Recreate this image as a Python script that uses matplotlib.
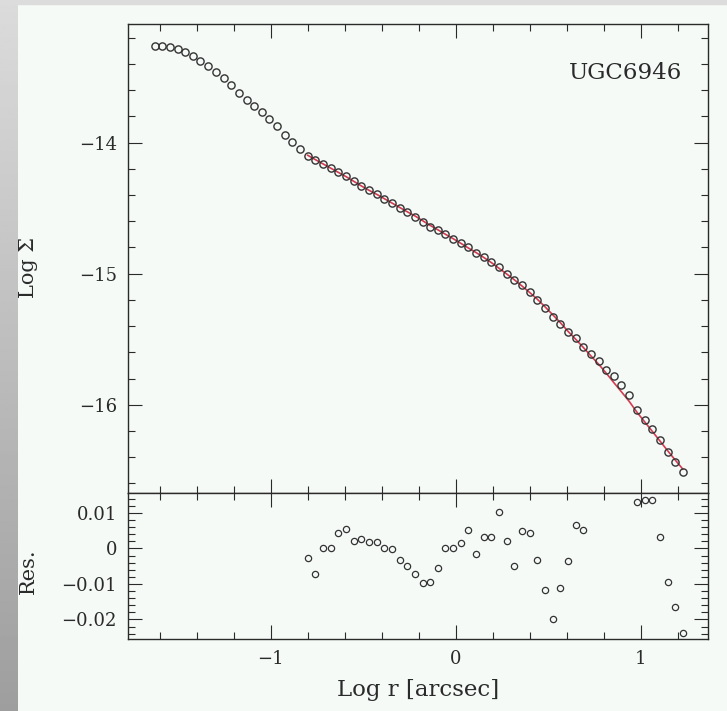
import matplotlib
matplotlib.use("Agg")
import matplotlib.pyplot as plt
import numpy as np
from matplotlib.ticker import MultipleLocator, FuncFormatter
from matplotlib.patches import Rectangle

# surface brightness profile of UGC6946
log_r = [-1.629, -1.588, -1.546, -1.505, -1.463, -1.422, -1.381, -1.339, -1.298, -1.256,
         -1.215, -1.174, -1.132, -1.091, -1.049, -1.008, -0.967, -0.925, -0.884, -0.842,
         -0.801, -0.760, -0.718, -0.677, -0.635, -0.594, -0.553, -0.511, -0.470, -0.428,
         -0.387, -0.346, -0.304, -0.263, -0.221, -0.180, -0.139, -0.097, -0.056, -0.014,
         0.027, 0.068, 0.110, 0.151, 0.193, 0.234, 0.275, 0.317, 0.358, 0.400,
         0.441, 0.482, 0.524, 0.565, 0.607, 0.648, 0.689, 0.731, 0.772, 0.814,
         0.855, 0.896, 0.938, 0.979, 1.021, 1.062, 1.103, 1.145, 1.186, 1.228]

log_sigma = [-13.259, -13.262, -13.267, -13.285, -13.310, -13.341, -13.376, -13.417, -13.458, -13.506,
             -13.562, -13.618, -13.674, -13.722, -13.763, -13.817, -13.873, -13.941, -13.997, -14.046,
             -14.099, -14.135, -14.163, -14.193, -14.224, -14.252, -14.292, -14.328, -14.361, -14.392,
             -14.427, -14.460, -14.497, -14.532, -14.565, -14.605, -14.641, -14.669, -14.699, -14.733,
             -14.766, -14.799, -14.839, -14.873, -14.913, -14.949, -15.000, -15.051, -15.089, -15.140,
             -15.198, -15.264, -15.333, -15.384, -15.443, -15.493, -15.557, -15.610, -15.666, -15.733,
             -15.783, -15.852, -15.928, -16.043, -16.117, -16.188, -16.272, -16.359, -16.437, -16.516]

# fitted model (red line), on the points used in the fit
fit_r = log_r[20:]
fit_sigma = [-14.096, -14.129, -14.162, -14.194, -14.227, -14.259, -14.294, -14.330, -14.363, -14.394,
             -14.427, -14.460, -14.494, -14.527, -14.559, -14.595, -14.631, -14.665, -14.699, -14.733,
             -14.768, -14.804, -14.839, -14.876, -14.916, -14.959, -15.002, -15.047, -15.094, -15.144,
             -15.195, -15.252, -15.313, -15.373, -15.440, -15.500, -15.562, -15.628, -15.690, -15.760,
             -15.832, -15.902, -15.975, -16.056, -16.130, -16.202, -16.275, -16.350, -16.421, -16.492]

# residuals (points above 0.0156 fall outside the panel)
residual = [-0.0028, -0.0073, 0.0000, 0.0000, 0.0044, 0.0055, 0.0021, 0.0027, 0.0018, 0.0018,
            0.0001, -0.0002, -0.0032, -0.0049, -0.0071, -0.0097, -0.0095, -0.0055, 0.0001, 0.0001,
            0.0016, 0.0052, -0.0015, 0.0033, 0.0031, 0.0103, 0.0020, -0.0049, 0.0049, 0.0044,
            -0.0032, -0.0117, -0.0200, -0.0112, -0.0035, 0.0065, 0.0051, 0.018, 0.024, 0.027,
            0.049, 0.050, 0.047, 0.0130, 0.0135, 0.0135, 0.0032, -0.0095, -0.0165, -0.0237]

bg = "#f5faf7"
ink = "#2a2a2a"
red = "#d43a50"

plt.rcParams["font.family"] = ["DejaVu Serif"]

fig = plt.figure(figsize=(7.27, 7.11), dpi=100, facecolor=bg)

# grey frame of the screenshot
strip = fig.add_axes([0, 0, 18 / 727, 1])
strip.imshow(np.linspace(0.86, 0.62, 256).reshape(-1, 1), cmap="gray", vmin=0, vmax=1,
             aspect="auto", extent=[0, 1, 0, 1])
strip.axis("off")
fig.patches.append(Rectangle((0, 1 - 4 / 711), 1, 4 / 711, transform=fig.transFigure,
                             color="#dcdcdc", zorder=0))

ax1 = fig.add_axes([128 / 727, 1 - 493 / 711, 580 / 727, 469 / 711], facecolor=bg)
ax2 = fig.add_axes([128 / 727, 1 - 639 / 711, 580 / 727, 146 / 711], facecolor=bg)

ax1.plot(fit_r, fit_sigma, color=red, lw=1.2, zorder=2)
ax1.plot(log_r, log_sigma, "o", mfc="none", mec="#333333", ms=5.2, mew=1.0, zorder=3)
ax2.plot(fit_r, residual, "o", mfc="none", mec="#333333", ms=4.5, mew=0.9)

ax1.set_xlim(-1.773, 1.364)
ax2.set_xlim(-1.773, 1.364)
ax1.set_ylim(-16.674, -13.094)
ax2.set_ylim(-0.0255, 0.0156)

for ax in (ax1, ax2):
    ax.xaxis.set_major_locator(MultipleLocator(1))
    ax.xaxis.set_minor_locator(MultipleLocator(0.2))
    ax.tick_params(which="both", direction="in", top=True, right=True,
                   color=ink, width=0.8, labelcolor=ink)
    ax.tick_params(which="major", length=10, pad=8, labelsize=13)
    ax.tick_params(which="minor", length=5)
    for s in ax.spines.values():
        s.set_color(ink)
        s.set_linewidth(1.0)

ax1.yaxis.set_major_locator(MultipleLocator(1))
ax1.yaxis.set_minor_locator(MultipleLocator(0.2))
ax1.tick_params(labelbottom=False)

ax2.yaxis.set_major_locator(MultipleLocator(0.01))
ax2.yaxis.set_minor_locator(MultipleLocator(0.002))
ax2.yaxis.set_major_formatter(FuncFormatter(lambda v, p: f"{round(v, 3):g}".replace("-", "\u2212")))

ax1.text(0.955, 0.8955, "UGC6946", transform=ax1.transAxes, ha="right", va="center",
         fontsize=16.5, color=ink)

fig.text(28 / 727, 1 - 268 / 711, "Log Σ", rotation=90, ha="center", va="center",
         fontsize=15, color=ink)
fig.text(28 / 727, 1 - 571 / 711, "Res.", rotation=90, ha="center", va="center",
         fontsize=15, color=ink)
fig.text(418 / 727, 1 - 690 / 711, "Log r [arcsec]", ha="center", va="center",
         fontsize=16.5, color=ink)

fig.savefig("out.png", dpi=100, facecolor=bg)
